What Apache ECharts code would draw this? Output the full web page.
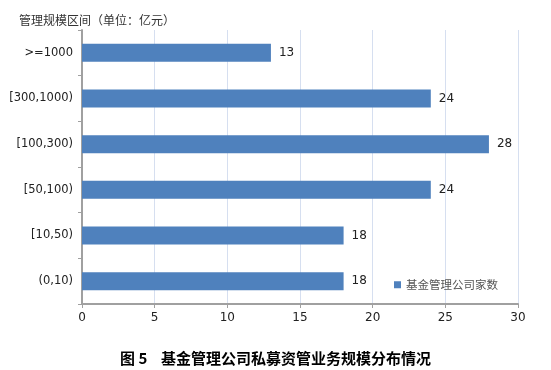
<!DOCTYPE html>
<html><head><meta charset="utf-8">
<script src="https://cdn.jsdelivr.net/npm/echarts@6/dist/echarts.min.js"></script>
<style>html,body{margin:0;padding:0;background:#fff}#c{width:551px;height:370px}</style>
</head><body><div id="c"></div>
<script>
const categories = ['(0,10)', '[10,50)', '[50,100)', '[100,300)', '[300,1000)', '>=1000'];
const values = [18, 18, 24, 28, 24, 13];
const seriesName = '基金管理公司家数';
const xTicks = [0, 30, 5];
const chart = echarts.init(document.getElementById('c'));
chart.setOption({
  animation: false,
  title: [
    {text: '管理规模区间（单位：亿元）', left: 14, top: 9,
     textStyle: {fontSize: 12, fontWeight: 'normal', color: '#333', fontFamily: 'Noto Sans CJK SC'}},
    {text: '图 5    基金管理公司私募资管业务规模分布情况', left: 'center', top: 346,
     textStyle: {fontSize: 15, fontWeight: 'bold', color: '#000', fontFamily: 'Noto Sans CJK SC'}}
  ],
  legend: {
    data: [seriesName], left: 389, top: 274, icon: 'rect', itemWidth: 7, itemHeight: 7, itemGap: 5,
    textStyle: {fontSize: 11.5, color: '#555', fontFamily: 'Noto Sans CJK SC'}
  },
  grid: {left: 82, right: 33, top: 30, bottom: 66, containLabel: false},
  xAxis: {
    type: 'value', min: xTicks[0], max: xTicks[1], interval: xTicks[2],
    axisLine: {show: true, lineStyle: {color: '#a0a0a0', width: 2}},
    axisTick: {show: true, length: 4, lineStyle: {color: '#a0a0a0'}},
    axisLabel: {fontSize: 12, color: '#222', fontFamily: 'DejaVu Sans', margin: 8},
    splitLine: {show: true, lineStyle: {color: '#d6dff0', width: 1}}
  },
  yAxis: {
    type: 'category', data: categories,
    axisLine: {show: true, lineStyle: {color: '#a0a0a0', width: 2}},
    axisTick: {show: true, length: 4, lineStyle: {color: '#a0a0a0'}},
    axisLabel: {fontSize: 11.5, color: '#222', fontFamily: 'DejaVu Sans', margin: 9}
  },
  series: [{
    name: seriesName, type: 'bar', data: values, barWidth: 18,
    itemStyle: {color: '#4F81BD'},
    label: {show: true, position: 'right', distance: 8, fontSize: 12, color: '#222', fontFamily: 'DejaVu Sans'}
  }]
});
</script></body></html>
